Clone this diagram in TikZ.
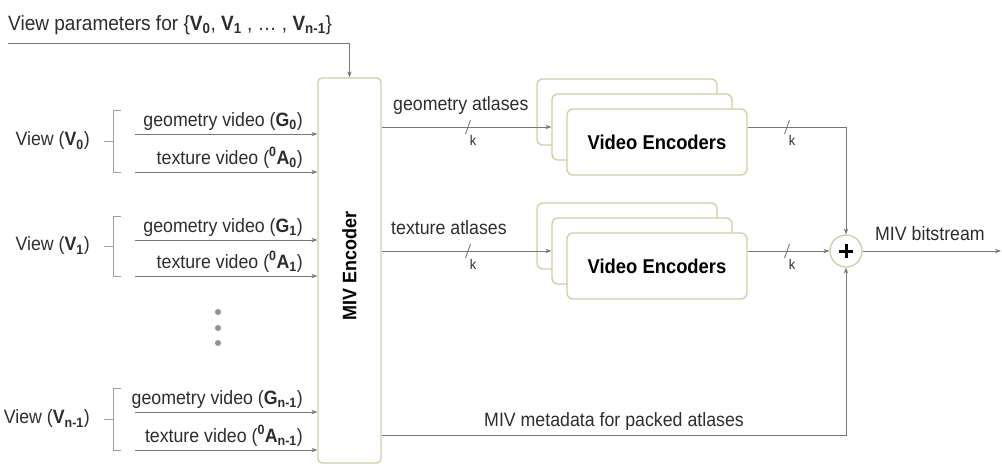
\documentclass[tikz,border=0pt]{standalone}
\usepackage{fontspec}
\setmainfont{Liberation Sans}[FakeStretch=0.92]
\usetikzlibrary{arrows.meta}

\definecolor{boxedge}{RGB}{212,203,165}
\definecolor{wirecol}{RGB}{120,120,120}
\definecolor{ink}{RGB}{45,45,45}

% bus-width mark: a short slash across a wire with its "k" label
\newcommand\busmark[1]{%
  \draw[wire] (#1) ++(-2.5,7) -- ++(5,-14);
  \node[klbl] at ([shift={(5,13)}]#1) {k};}

\begin{document}
\begin{tikzpicture}[x=1pt,y=-1pt,
  blockbox/.style={draw=boxedge, line width=1.3pt, fill=white, rounded corners=4pt},
  vebox/.style={blockbox, rounded corners=6pt, minimum width=180pt, minimum height=66pt,
                font=\fontsize{20}{22}\selectfont\bfseries, text=black},
  wire/.style={draw=wirecol, line width=0.9pt},
  arr/.style={wire, -{Stealth[length=6pt,width=4.5pt]}},
  lbl/.style={text=ink, font=\fontsize{19.3}{22}\selectfont, inner sep=0pt},
  klbl/.style={text=ink, font=\fontsize{14}{16}\selectfont, inner sep=0pt},
  bracket/.style={draw=wirecol!70, line width=0.8pt},
  sumnode/.style={circle, draw=boxedge, line width=1.3pt, fill=white, minimum size=32pt, inner sep=0pt},
  plusbar/.style={draw=black, line width=3pt},
  dot/.style={circle, fill=wirecol!80, inner sep=0pt, minimum size=6pt}]

\useasboundingbox (0,0) rectangle (1002,466);

% encoder block
\node[blockbox, minimum width=63pt, minimum height=385pt] (enc) at (349.5,270.5) {};
\node[rotate=90, font=\fontsize{19.5}{22}\selectfont\bfseries, text=black] (enclbl) at (349.5,266) {MIV Encoder};

% view parameters
\node[lbl, font=\fontsize{20.7}{24}\selectfont, anchor=base west] (title) at (8,30)
  {View parameters for \{\textbf{V\textsubscript{0}}, \textbf{V\textsubscript{1}} , \ldots\ , \textbf{V\textsubscript{n-1}}\}};
\coordinate (pstart) at (8,43);
\draw[arr] (pstart) -| (enc.north);

% source views
\foreach \g/\ga/\ta/\s in {0/134/172/0, 1/240/276/1, 2/412/450/n-1}{
  \pgfmathsetmacro\bt{\ga-24}
  \pgfmathsetmacro\bm{(\bt+\ta)/2}
  \coordinate (gin\g) at (135,\ga);
  \coordinate (tin\g) at (135,\ta);
  \draw[arr] (gin\g) -- (gin\g -| enc.west);
  \draw[arr] (tin\g) -- (tin\g -| enc.west);
  \node[lbl, anchor=base east] (gl\g) at (303,\ga-8) {geometry video (\textbf{G\textsubscript{\s}})};
  \node[lbl, anchor=base east] (tl\g) at (303,\ta-8) {texture video (\textbf{\textsuperscript{0}A\textsubscript{\s}})};
  \draw[bracket] (121,\bt) -- (113,\bt) -- (113,\ta) -- (121,\ta);
  \draw[bracket] (104,\bm) -- (113,\bm);
  \node[lbl, anchor=east] (view\g) at (90,\bm) {View (\textbf{V\textsubscript{\s}})};
}

% elided views
\node[dot] (d1) at (218,312) {};
\node[dot] (d2) at (218,328) {};
\node[dot] (d3) at (218,343) {};

% geometry video encoders
\node[vebox] (gB) at (627,112) {};
\node[vebox] (gM) at (642,127) {};
\node[vebox] (gF) at (657,142) {Video Encoders};

% texture video encoders
\node[vebox] (tB) at (627,236) {};
\node[vebox] (tM) at (642,251) {};
\node[vebox] (tF) at (657,266) {Video Encoders};

% combiner
\node[sumnode] (plus) at (846,251) {};
\draw[plusbar] (plus.center) ++(-7,0) -- ++(14,0);
\draw[plusbar] (plus.center) ++(0,-7) -- ++(0,14);

% atlases into the encoders
\draw[arr] (enc.east |- gM) -- (gM.west);
\node[lbl, anchor=base west] (glab) at (393,110) {geometry atlases};
\coordinate (gk) at (468,127);
\busmark{gk}

\draw[arr] (enc.east |- tM) -- (tM.west);
\node[lbl, anchor=base west] (tlab) at (391,234) {texture atlases};
\coordinate (tk) at (468,251);
\busmark{tk}

% bitstreams into the combiner
\draw[arr] (gF.east |- gM) -| (plus.north);
\coordinate (gko) at (787,127);
\busmark{gko}
\draw[arr] (tF.east |- tM) -- (plus.west);
\coordinate (tko) at (787,251);
\busmark{tko}

% metadata
\coordinate (metay) at (0,435);
\draw[arr] (enc.east |- metay) -| (plus.south);
\node[lbl, anchor=base] (mlab) at (614,426) {MIV metadata for packed atlases};

% output
\coordinate (outend) at (1001,251);
\draw[arr] (plus.east) -- (outend);
\node[lbl, anchor=base west] (olab) at (875,240) {MIV bitstream};

\end{tikzpicture}
\end{document}
